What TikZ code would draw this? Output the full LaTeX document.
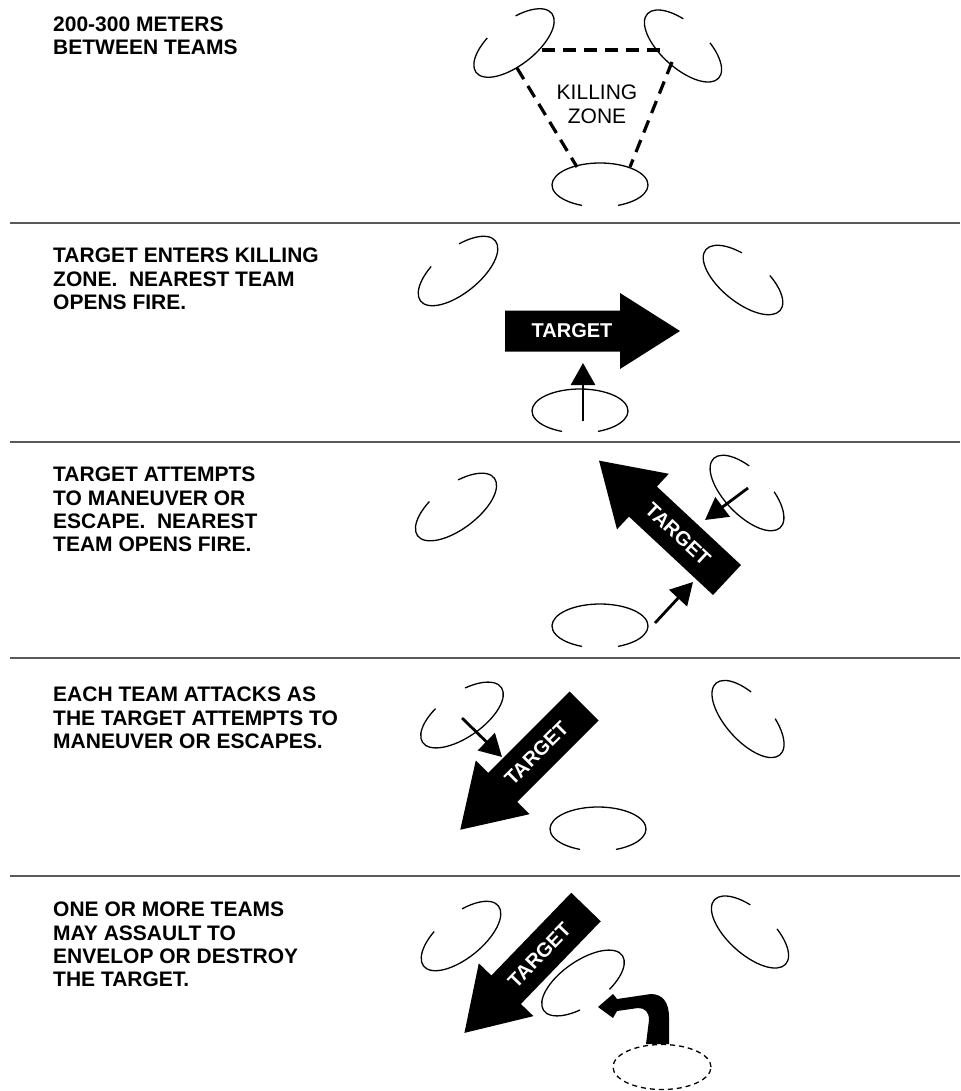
\documentclass[tikz,border=0pt]{standalone}
\usepackage{fontspec}
\setmainfont{Liberation Sans}
\usetikzlibrary{arrows.meta}

\begin{document}
\begin{tikzpicture}[
  x=1pt, y=1pt,
  caption/.style={anchor=north west, inner sep=0pt, align=left, font=\fontsize{21}{23.3}\selectfont\bfseries},
  zonetext/.style={anchor=north, inner sep=0pt, align=center, font=\fontsize{21}{23.5}\selectfont},
  divider/.style={draw=black!65, line width=2pt},
  teamline/.style={line width=1.3pt},
  zone/.style={line width=3.2pt, dash pattern=on 13pt off 8pt},
  fire/.style={line width=2.8pt, -{Triangle[length=22pt, width=24pt]}},
  tlabel/.style={text=white, inner sep=0pt, transform shape, font=\fontsize{20}{20}\selectfont\bfseries},
  pics/team/.style={code={
    \draw[teamline] (112:48 and 22) arc[start angle=112, end angle=428, x radius=48, y radius=22];
  }},
  pics/target/.style={code={
    \fill (0,-20.5) -- (115,-20.5) -- (115,-38) -- (175,0) -- (115,38) -- (115,20.5) -- (0,20.5) -- cycle;
    \node[tlabel, rotate=#1] (-label) at (67,0) {TARGET};
  }},
]
\useasboundingbox (0,0) rectangle (960,-1091);

% dividers between the five steps
\draw[divider] (10,-223) -- (960,-223);
\draw[divider] (10,-441.5) -- (960,-441.5);
\draw[divider] (10,-658) -- (960,-658);
\draw[divider] (10,-875.5) -- (960,-875.5);

% step 1
\node[caption] (cap1) at (53,-16.5) {200-300 METERS\\BETWEEN TEAMS};
\pic[rotate=38] (p1a) at (514,-43) {team};
\pic[rotate=-42] (p1b) at (683,-46) {team};
\pic[rotate=180] (p1c) at (600,-185) {team};
\coordinate (z1) at (542,-50);
\coordinate (z2) at (660,-50);
\coordinate (z3) at (672,-62);
\coordinate (z4) at (630,-167);
\coordinate (z5) at (577,-167);
\coordinate (z6) at (517,-68);
\draw[zone] (z1) -- (z2);
\draw[zone] (z3) -- (z4);
\draw[zone] (z6) -- (z5);
\node[zonetext] (kz) at (597,-85) {KILLING\\ZONE};

% step 2
\node[caption] (cap2) at (53,-248) {TARGET ENTERS KILLING\\ZONE.\ \ NEAREST TEAM\\OPENS FIRE.};
\pic[rotate=39] (p2a) at (458,-271) {team};
\pic[rotate=-39] (p2b) at (743,-280) {team};
\pic[rotate=180] (p2c) at (580,-411) {team};
\pic (t2) at (505,-331) {target=0};
\coordinate (f2s) at (583,-421);
\coordinate (f2e) at (583,-363);
\draw[fire] (f2s) -- (f2e);

% step 3
\node[caption] (cap3) at (53,-467) {TARGET ATTEMPTS\\TO MANEUVER OR\\ESCAPE.\ \ NEAREST\\TEAM OPENS FIRE.};
\pic[rotate=37] (p3a) at (456,-507) {team};
\pic[rotate=-46] (p3b) at (747,-493) {team};
\pic[rotate=180] (p3c) at (600,-626) {team};
\pic[rotate=137] (t3) at (727,-580) {target=180};
\coordinate (f3s) at (748,-488);
\coordinate (f3e) at (705,-520);
\coordinate (f3t) at (655,-623);
\coordinate (f3u) at (693,-582);
\draw[fire] (f3s) -- (f3e);
\draw[fire] (f3t) -- (f3u);

% step 4
\node[caption] (cap4) at (53,-687) {EACH TEAM ATTACKS AS\\THE TARGET ATTEMPTS TO\\MANEUVER OR ESCAPES.};
\pic[rotate=35] (p4a) at (462,-715) {team};
\pic[rotate=-48] (p4b) at (748,-719) {team};
\pic[rotate=180] (p4c) at (598,-829) {team};
\pic[rotate=225] (t4) at (584,-706) {target=180};
\coordinate (f4s) at (462,-718);
\coordinate (f4e) at (502,-757);
\draw[fire] (f4s) -- (f4e);

% step 5
\node[caption] (cap5) at (53,-902) {ONE OR MORE TEAMS\\MAY ASSAULT TO\\ENVELOP OR DESTROY\\THE TARGET.};
\pic[rotate=39] (p5a) at (461,-936) {team};
\pic[rotate=-42] (p5b) at (750,-932) {team};
\pic[rotate=215] (p5c) at (583,-983) {team};
\pic[rotate=226] (t5) at (586,-907) {target=180};
\coordinate (old) at (662,-1067);
\draw[teamline, dash pattern=on 5pt off 4pt] (old) ellipse[x radius=49, y radius=22.5];
% assault move
\fill (669,-1044) -- (669,-1017) .. controls (669,-1003) and (663,-994) .. (651,-994)
  -- (617,-999) -- (613,-994) -- (598,-1007) -- (613,-1018) -- (617,-1011)
  -- (638,-1008) .. controls (645,-1008) and (649,-1012) .. (649,-1020)
  -- (646,-1044) -- cycle;
\end{tikzpicture}
\end{document}
